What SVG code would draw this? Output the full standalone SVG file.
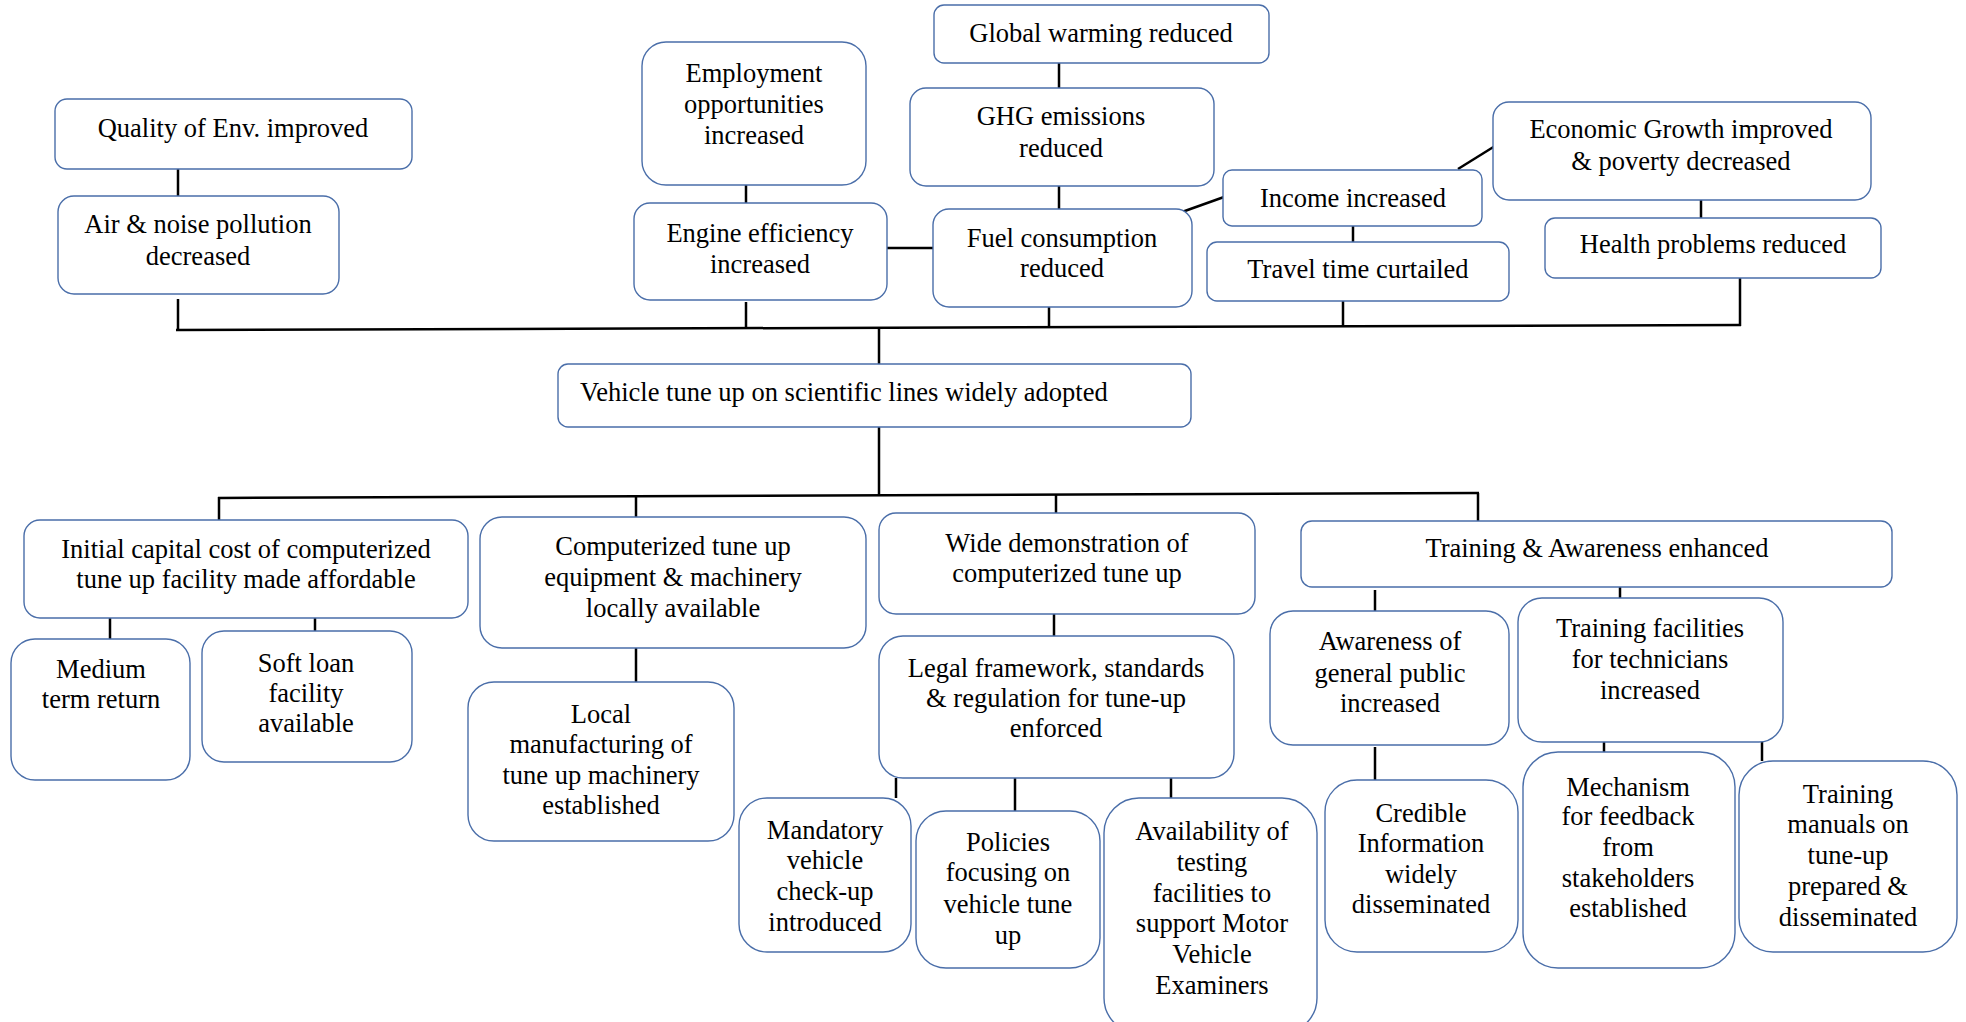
<svg xmlns="http://www.w3.org/2000/svg" width="1966" height="1022" viewBox="0 0 1966 1022">
  <style>
    .box { fill: #ffffff; stroke: #4a6ea9; stroke-width: 1.4; }
    .lbl { font-family: 'Liberation Serif', 'DejaVu Serif', serif; font-size: 26.5px; fill: #000000; text-anchor: middle; }
    .lft { text-anchor: start; }
    .wire { stroke: #000000; stroke-width: 2.5; fill: none; }
  </style>
  <rect width="1966" height="1022" fill="#ffffff"/>

  <!-- connectors -->
  <g id="connectors" class="wire">
    <line x1="178" y1="169" x2="178" y2="196"/>
    <line x1="178" y1="299" x2="178" y2="330"/>
    <line x1="176" y1="330" x2="1741" y2="325"/>
    <line x1="746" y1="302" x2="746" y2="329"/>
    <line x1="1049" y1="304" x2="1049" y2="327"/>
    <line x1="1343" y1="301" x2="1343" y2="326"/>
    <line x1="1740" y1="278" x2="1740" y2="326"/>
    <line x1="746" y1="185" x2="746" y2="203"/>
    <line x1="887" y1="248" x2="933" y2="248"/>
    <line x1="1059" y1="63" x2="1059" y2="88"/>
    <line x1="1059" y1="186" x2="1059" y2="209"/>
    <line x1="1182" y1="212" x2="1224" y2="197"/>
    <line x1="1458" y1="169" x2="1495" y2="146"/>
    <line x1="1353" y1="226" x2="1353" y2="242"/>
    <line x1="1701" y1="200" x2="1701" y2="218"/>
    <line x1="879" y1="328" x2="879" y2="364"/>
    <line x1="879" y1="427" x2="879" y2="496"/>
    <line x1="218" y1="498" x2="1479" y2="493"/>
    <line x1="219" y1="497" x2="219" y2="520"/>
    <line x1="636" y1="497" x2="636" y2="517"/>
    <line x1="1056" y1="494" x2="1056" y2="513"/>
    <line x1="1478" y1="493" x2="1478" y2="521"/>
    <line x1="110" y1="618" x2="110" y2="639"/>
    <line x1="315" y1="618" x2="315" y2="631"/>
    <line x1="636" y1="648" x2="636" y2="682"/>
    <line x1="1054" y1="614" x2="1054" y2="636"/>
    <line x1="896" y1="778" x2="896" y2="798"/>
    <line x1="1015" y1="778" x2="1015" y2="811"/>
    <line x1="1171" y1="776" x2="1171" y2="798"/>
    <line x1="1375" y1="590" x2="1375" y2="611"/>
    <line x1="1620" y1="587" x2="1620" y2="598"/>
    <line x1="1375" y1="747" x2="1375" y2="780"/>
    <line x1="1604" y1="740" x2="1604" y2="752"/>
    <line x1="1762" y1="742" x2="1762" y2="761"/>
  </g>

  <!-- upper outcomes -->
  <g id="quality">
    <rect class="box" x="55" y="99" width="357" height="70" rx="12"/>
    <text class="lbl" x="233" y="137">Quality of Env. improved</text>
  </g>
  <g id="air">
    <rect class="box" x="58" y="196" width="281" height="98" rx="16"/>
    <text class="lbl" x="198"><tspan x="198" y="233">Air &amp; noise pollution</tspan><tspan x="198" y="265">decreased</tspan></text>
  </g>
  <g id="employment">
    <rect class="box" x="642" y="42" width="224" height="143" rx="24"/>
    <text class="lbl"><tspan x="754" y="82">Employment</tspan><tspan x="754" y="113">opportunities</tspan><tspan x="754" y="144">increased</tspan></text>
  </g>
  <g id="engine">
    <rect class="box" x="634" y="203" width="253" height="97" rx="16"/>
    <text class="lbl"><tspan x="760" y="242">Engine efficiency</tspan><tspan x="760" y="273">increased</tspan></text>
  </g>
  <g id="global">
    <rect class="box" x="934" y="5" width="335" height="58" rx="10"/>
    <text class="lbl" x="1101" y="42">Global warming reduced</text>
  </g>
  <g id="ghg">
    <rect class="box" x="910" y="88" width="304" height="98" rx="16"/>
    <text class="lbl"><tspan x="1061" y="125">GHG emissions</tspan><tspan x="1061" y="157">reduced</tspan></text>
  </g>
  <g id="fuel">
    <rect class="box" x="933" y="209" width="259" height="98" rx="16"/>
    <text class="lbl"><tspan x="1062" y="247">Fuel consumption</tspan><tspan x="1062" y="277">reduced</tspan></text>
  </g>
  <g id="income">
    <rect class="box" x="1223" y="170" width="259" height="56" rx="9"/>
    <text class="lbl" x="1353" y="207">Income increased</text>
  </g>
  <g id="travel">
    <rect class="box" x="1207" y="242" width="302" height="59" rx="10"/>
    <text class="lbl" x="1358" y="278">Travel time curtailed</text>
  </g>
  <g id="economic">
    <rect class="box" x="1493" y="102" width="378" height="98" rx="16"/>
    <text class="lbl"><tspan x="1681" y="138">Economic Growth improved</tspan><tspan x="1681" y="170">&amp; poverty decreased</tspan></text>
  </g>
  <g id="health">
    <rect class="box" x="1545" y="218" width="336" height="60" rx="10"/>
    <text class="lbl" x="1713" y="253">Health problems reduced</text>
  </g>

  <!-- core problem statement -->
  <g id="vehicle">
    <rect class="box" x="558" y="364" width="633" height="63" rx="10"/>
    <text class="lbl lft" x="580" y="401">Vehicle tune up on scientific lines widely adopted</text>
  </g>

  <!-- lower means -->
  <g id="initial">
    <rect class="box" x="24" y="520" width="444" height="98" rx="16"/>
    <text class="lbl"><tspan x="246" y="558">Initial capital cost of computerized</tspan><tspan x="246" y="588">tune up facility made affordable</tspan></text>
  </g>
  <g id="medium">
    <rect class="box" x="11" y="639" width="179" height="141" rx="24"/>
    <text class="lbl"><tspan x="101" y="678">Medium</tspan><tspan x="101" y="708">term return</tspan></text>
  </g>
  <g id="softloan">
    <rect class="box" x="202" y="631" width="210" height="131" rx="22"/>
    <text class="lbl"><tspan x="306" y="672">Soft loan</tspan><tspan x="306" y="702">facility</tspan><tspan x="306" y="732">available</tspan></text>
  </g>
  <g id="computerized">
    <rect class="box" x="480" y="517" width="386" height="131" rx="22"/>
    <text class="lbl"><tspan x="673" y="555">Computerized tune up</tspan><tspan x="673" y="586">equipment &amp; machinery</tspan><tspan x="673" y="617">locally available</tspan></text>
  </g>
  <g id="local">
    <rect class="box" x="468" y="682" width="266" height="159" rx="26"/>
    <text class="lbl"><tspan x="601" y="723">Local</tspan><tspan x="601" y="753">manufacturing of</tspan><tspan x="601" y="784">tune up machinery</tspan><tspan x="601" y="814">established</tspan></text>
  </g>
  <g id="wide">
    <rect class="box" x="879" y="513" width="376" height="101" rx="17"/>
    <text class="lbl"><tspan x="1067" y="552">Wide demonstration of</tspan><tspan x="1067" y="582">computerized tune up</tspan></text>
  </g>
  <g id="legal">
    <rect class="box" x="879" y="636" width="355" height="142" rx="24"/>
    <text class="lbl"><tspan x="1056" y="677">Legal framework, standards</tspan><tspan x="1056" y="707">&amp; regulation for tune-up</tspan><tspan x="1056" y="737">enforced</tspan></text>
  </g>
  <g id="mandatory">
    <rect class="box" x="739" y="798" width="172" height="154" rx="28"/>
    <text class="lbl"><tspan x="825" y="839">Mandatory</tspan><tspan x="825" y="869">vehicle</tspan><tspan x="825" y="900">check-up</tspan><tspan x="825" y="931">introduced</tspan></text>
  </g>
  <g id="policies">
    <rect class="box" x="916" y="811" width="184" height="157" rx="30"/>
    <text class="lbl"><tspan x="1008" y="851">Policies</tspan><tspan x="1008" y="881">focusing on</tspan><tspan x="1008" y="913">vehicle tune</tspan><tspan x="1008" y="944">up</tspan></text>
  </g>
  <g id="availability">
    <rect class="box" x="1104" y="798" width="213" height="235" rx="35"/>
    <text class="lbl"><tspan x="1212" y="840">Availability of</tspan><tspan x="1212" y="871">testing</tspan><tspan x="1212" y="902">facilities to</tspan><tspan x="1212" y="932">support Motor</tspan><tspan x="1212" y="963">Vehicle</tspan><tspan x="1212" y="994">Examiners</tspan></text>
  </g>
  <g id="training-awareness">
    <rect class="box" x="1301" y="521" width="591" height="66" rx="11"/>
    <text class="lbl" x="1597" y="557">Training &amp; Awareness enhanced</text>
  </g>
  <g id="awareness">
    <rect class="box" x="1270" y="611" width="239" height="134" rx="23"/>
    <text class="lbl"><tspan x="1390" y="650">Awareness of</tspan><tspan x="1390" y="682">general public</tspan><tspan x="1390" y="712">increased</tspan></text>
  </g>
  <g id="training-facilities">
    <rect class="box" x="1518" y="598" width="265" height="144" rx="24"/>
    <text class="lbl"><tspan x="1650" y="637">Training facilities</tspan><tspan x="1650" y="668">for technicians</tspan><tspan x="1650" y="699">increased</tspan></text>
  </g>
  <g id="credible">
    <rect class="box" x="1325" y="780" width="193" height="172" rx="32"/>
    <text class="lbl"><tspan x="1421" y="822">Credible</tspan><tspan x="1421" y="852">Information</tspan><tspan x="1421" y="883">widely</tspan><tspan x="1421" y="913">disseminated</tspan></text>
  </g>
  <g id="mechanism">
    <rect class="box" x="1523" y="752" width="212" height="216" rx="35"/>
    <text class="lbl"><tspan x="1628" y="796">Mechanism</tspan><tspan x="1628" y="825">for feedback</tspan><tspan x="1628" y="856">from</tspan><tspan x="1628" y="887">stakeholders</tspan><tspan x="1628" y="917">established</tspan></text>
  </g>
  <g id="manuals">
    <rect class="box" x="1739" y="761" width="218" height="191" rx="34"/>
    <text class="lbl"><tspan x="1848" y="803">Training</tspan><tspan x="1848" y="833">manuals on</tspan><tspan x="1848" y="864">tune-up</tspan><tspan x="1848" y="895">prepared &amp;</tspan><tspan x="1848" y="926">disseminated</tspan></text>
  </g>
</svg>
